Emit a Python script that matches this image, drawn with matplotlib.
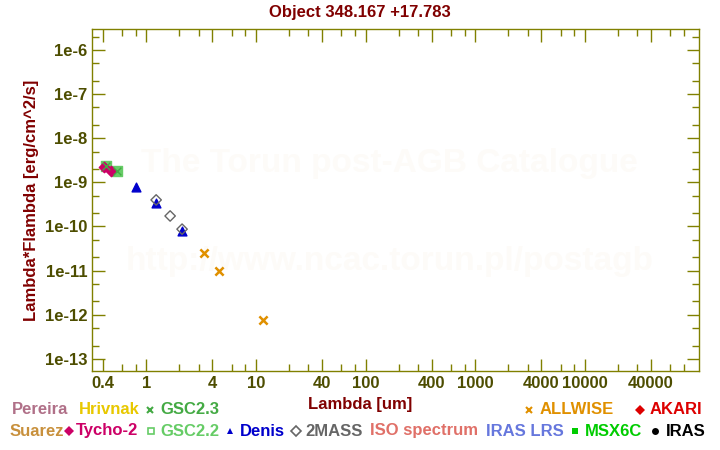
import numpy as np
import matplotlib
matplotlib.use("Agg")
import matplotlib.pyplot as plt
from matplotlib.ticker import FixedLocator, NullFormatter

plt.rcParams['font.family'] = ['Liberation Sans', 'DejaVu Sans']
plt.rcParams['font.weight'] = 'bold'
plt.rcParams['axes.titleweight'] = 'bold'
plt.rcParams['axes.labelweight'] = 'bold'

# photometry (um, erg/cm^2/s)
gsc23_x = [0.43, 0.545]
gsc23_y = [2.35e-9, 1.8e-9]
gsc22_x = [0.43, 0.545]
gsc22_y = [2.35e-9, 1.8e-9]
tycho_x = [0.415, 0.48]
tycho_y = [2.2e-9, 1.85e-9]
denis_x = [0.81, 1.23, 2.12]
denis_y = [7.8e-10, 3.4e-10, 7.9e-11]
tmass_x = [1.23, 1.65, 2.12]
tmass_y = [4.0e-10, 1.73e-10, 8.7e-11]
allwise_x = [3.37, 4.61, 11.6]
allwise_y = [2.5e-11, 1.0e-11, 7.6e-13]

xticks = [0.4, 1, 4, 10, 40, 100, 400, 1000, 4000, 10000, 40000]
xlabels = ['0.4', '1', '4', '10', '40', '100', '400', '1000', '4000', '10000', '40000']
yticks = [1e-13, 1e-12, 1e-11, 1e-10, 1e-9, 1e-8, 1e-7, 1e-6]
ylabels = ['1e-13', '1e-12', '1e-11', '1e-10', '1e-9', '1e-8', '1e-7', '1e-6']

axis_col = '#808000'
tick_col = '#4d4d00'
dark_red = '#800000'

fig = plt.figure(figsize=(7.2, 4.5), dpi=100)
ax = fig.add_axes([0.1278, 0.1756, 0.8432, 0.76])
ax.set_xscale('log')
ax.set_yscale('log')
ax.set_xlim(0.32, 1.1e5)
ax.set_ylim(5.3e-14, 3e-6)

# watermark
ax.text(0.49, 0.608, 'The Torun post-AGB Catalogue', transform=ax.transAxes,
        ha='center', va='center', fontsize=24, color='#fdfbf8', zorder=0)
ax.text(0.49, 0.319, 'http://www.ncac.torun.pl/postagb', transform=ax.transAxes,
        ha='center', va='center', fontsize=24, color='#fdfbf8', zorder=0)

ax.scatter(gsc22_x, gsc22_y, marker='s', s=50, color='#66cc66', zorder=3)
ax.scatter(gsc23_x, gsc23_y, marker='x', s=30, color='#44aa44', linewidths=1, zorder=4)
ax.scatter(tycho_x, tycho_y, marker='D', s=28, color='#cc0066', zorder=3)
ax.scatter(denis_x, denis_y, marker='^', s=40, color='#0000cc', zorder=3)
ax.scatter(tmass_x, tmass_y, marker='D', s=28, facecolors='none',
           edgecolors='#666666', linewidths=1, zorder=4)
ax.scatter(allwise_x, allwise_y, marker='x', s=35, color='#e09000', linewidths=1.8, zorder=3)

minor_x = []
for d in range(-1, 6):
    for m in [2, 3, 6, 8]:
        minor_x.append(m * 10.0 ** d)
minor_y = []
for d in range(-14, -5):
    for m in [2, 5]:
        minor_y.append(m * 10.0 ** d)

ax.xaxis.set_major_locator(FixedLocator(xticks))
ax.xaxis.set_minor_locator(FixedLocator(minor_x))
ax.yaxis.set_major_locator(FixedLocator(yticks))
ax.yaxis.set_minor_locator(FixedLocator(minor_y))
ax.set_xticklabels(xlabels)
ax.set_yticklabels(ylabels)
ax.xaxis.set_minor_formatter(NullFormatter())
ax.yaxis.set_minor_formatter(NullFormatter())
ax.tick_params(which='both', direction='in', top=True, right=True,
               color=axis_col, width=1, labelsize=12, labelcolor=tick_col)
ax.tick_params(which='major', length=9)
ax.tick_params(which='minor', length=5)
for s in ax.spines.values():
    s.set_color(axis_col)
    s.set_linewidth(1)

fig.text(0.5, 1 - 12 / 450, 'Object 348.167 +17.783', fontsize=12,
         color=dark_red, ha='center', va='center')
fig.text(0.5, 1 - 405 / 450, 'Lambda [um]', fontsize=12,
         color=dark_red, ha='center', va='center')
ax.set_ylabel('Lambda*Flambda [erg/cm^2/s]', fontsize=12, color=dark_red, labelpad=4)

# legend as coloured text, two rows: (symbol x, marker, label x, label, colour)
row1 = [(None, None, 12, 'Pereira', '#b07088'),
        (None, None, 79, 'Hrivnak', '#e8c800'),
        (150, 'x', 160, 'GSC2.3', '#44aa44'),
        (529, 'x', 540, 'ALLWISE', '#e09000'),
        (640, 'D', 650, 'AKARI', '#dd0000')]
row2 = [(None, None, 10, 'Suarez', '#c8903c'),
        (69, 'D', 76, 'Tycho-2', '#cc0066'),
        (151, 's_open', 160, 'GSC2.2', '#66cc66'),
        (230, '^', 240, 'Denis', '#0000cc'),
        (296, 'D_open', 305, '2MASS', '#666666'),
        (None, None, 370, 'ISO spectrum', '#e07068'),
        (None, None, 486, 'IRAS LRS', '#6677dd'),
        (575, 's', 585, 'MSX6C', '#00cc00'),
        (655, 'o', 666, 'IRAS', '#000000')]

for ypix, row in [(410, row1), (431, row2)]:
    yf = 1 - ypix / 450
    for sx, mk, lx, t, c in row:
        fig.text(lx / 720, yf, t, color=c, fontsize=12, va='center', ha='left')
        if mk is None:
            continue
        if mk.endswith('_open'):
            fig.lines.append(plt.Line2D([sx / 720], [yf], marker=mk[0], markersize=5,
                                        markerfacecolor='none', markeredgecolor=c,
                                        markeredgewidth=1.2, transform=fig.transFigure))
        elif mk == 'x':
            fig.lines.append(plt.Line2D([sx / 720], [yf], marker='x', markersize=5,
                                        color=c, markeredgewidth=1.5,
                                        transform=fig.transFigure))
        else:
            fig.lines.append(plt.Line2D([sx / 720], [yf], marker=mk, markersize=5,
                                        color=c, markeredgewidth=0,
                                        transform=fig.transFigure))

fig.savefig('out.png', dpi=100)
